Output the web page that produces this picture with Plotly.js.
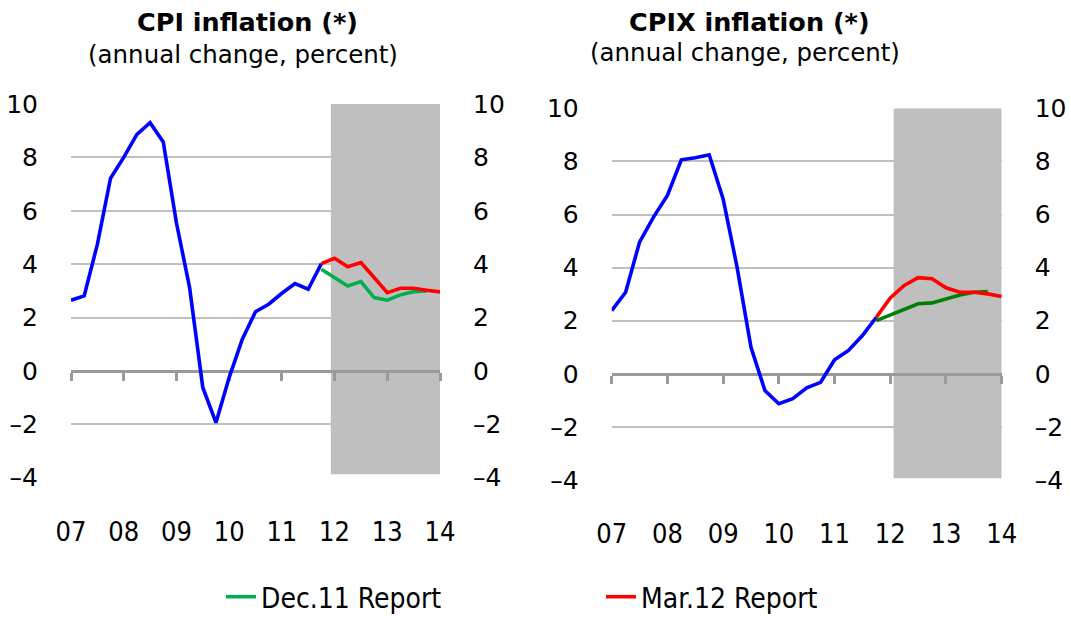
<!DOCTYPE html>
<html>
<head>
<meta charset="utf-8">
<script src="https://cdn.plot.ly/plotly-3.0.1.min.js"></script>
<style>html,body{margin:0;padding:0;background:#fff;}#chart{width:1071px;height:622px;}</style>
</head>
<body>
<div id="chart"></div>
<script>
// ---- data ----
const yearTicks = [2007, 2008, 2009, 2010, 2011, 2012, 2013, 2014];
const yearLabels = ["07", "08", "09", "10", "11", "12", "13", "14"];
const yTicks = [-4, -2, 0, 2, 4, 6, 8, 10];
const yLabels = ["\u20134", "\u20132", "0", "2", "4", "6", "8", "10"];

const histQuarters = [2007.0, 2007.25, 2007.5, 2007.75, 2008.0, 2008.25, 2008.5, 2008.75,
  2009.0, 2009.25, 2009.5, 2009.75, 2010.0, 2010.25, 2010.5, 2010.75,
  2011.0, 2011.25, 2011.5, 2011.75];
const dec11Quarters = [2011.75, 2012.0, 2012.25, 2012.5, 2012.75, 2013.0, 2013.25, 2013.5, 2013.75];
const mar12Quarters = [2011.75, 2012.0, 2012.25, 2012.5, 2012.75, 2013.0, 2013.25, 2013.5, 2013.75, 2014.0];

const cpiActual = [2.65, 2.81, 4.74, 7.22, 8.0, 8.86, 9.3, 8.58, 5.55, 3.12,
  -0.62, -1.94, -0.25, 1.19, 2.22, 2.5, 2.91, 3.27, 3.06, 4.02];
const cpiDec11 = [3.81, 3.5, 3.18, 3.35, 2.75, 2.65, 2.85, 2.97, 3.0];
const cpiMar12 = [4.02, 4.22, 3.9, 4.06, 3.5, 2.93, 3.1, 3.1, 3.02, 2.96];

const cpixActual = [2.38, 3.07, 4.96, 5.9, 6.72, 8.06, 8.14, 8.25, 6.59, 4.02,
  1.0, -0.63, -1.13, -0.94, -0.53, -0.32, 0.53, 0.88, 1.44, 2.13];
const cpixDec11 = [2.0, 2.22, 2.45, 2.64, 2.67, 2.82, 2.97, 3.07, 3.1];
const cpixMar12 = [2.13, 2.86, 3.33, 3.62, 3.58, 3.24, 3.07, 3.07, 3.01, 2.91];

// ---- layout helpers ----
const W = 1071, H = 622;
const px = v => v / W;
const py = v => 1 - v / H;
const YR = [-4, 10];
const condensed = '"DejaVu Sans Condensed", "Liberation Sans Narrow", "DejaVu Sans", sans-serif';
const sans = '"DejaVu Sans", "Noto Sans", sans-serif';

const L = {x: [px(71), px(440)], y: [py(477.7), py(104)]};
const R = {x: [px(611.7), px(1001.7)], y: [py(480), py(108.3)]};
const zeroPos = d => d.y[0] + (0 - YR[0]) / (YR[1] - YR[0]) * (d.y[1] - d.y[0]);

const BLUE = '#0000ff', RED = '#ff0000', GREEN_L = '#00b050', GREEN_R = '#008000';
const LW = 3.6;

function line(x, y, color, xa, ya, name, showlegend) {
  return {type: 'scatter', mode: 'lines', x: x, y: y, xaxis: xa, yaxis: ya,
    line: {color: color, width: LW}, name: name, showlegend: !!showlegend, hoverinfo: 'skip'};
}

const traces = [
  line(histQuarters, cpiActual, BLUE, 'x2', 'y2', 'CPI', false),
  line(dec11Quarters, cpiDec11, GREEN_L, 'x2', 'y2', 'Dec.11 Report', true),
  line(mar12Quarters, cpiMar12, RED, 'x2', 'y2', 'Mar.12 Report', true),
  line(histQuarters, cpixActual, BLUE, 'x4', 'y4', 'CPIX', false),
  line(dec11Quarters, cpixDec11, GREEN_R, 'x4', 'y4', 'Dec.11 Report', false),
  line(mar12Quarters, cpixMar12, RED, 'x4', 'y4', 'Mar.12 Report', false)
];

function labelX(dom, anchor) {
  return {domain: dom, anchor: anchor, range: [2007, 2014], tickmode: 'array',
    tickvals: yearTicks, ticktext: yearLabels, ticks: 'outside', ticklen: 30,
    tickcolor: 'rgba(0,0,0,0)', showline: false, showgrid: false, zeroline: false,
    tickfont: {family: condensed, size: 27, color: '#000'}, fixedrange: true};
}
function zeroX(over, pos) {
  return {overlaying: over, anchor: 'free', position: pos, range: [2007, 2014],
    tickmode: 'array', tickvals: yearTicks, showticklabels: false, ticks: 'outside',
    ticklen: 8, tickwidth: 3, tickcolor: '#9a9a9a', showline: true, linecolor: '#9a9a9a',
    linewidth: 3, showgrid: false, zeroline: false, layer: 'below traces', fixedrange: true};
}
function gridY(dom, anchor) {
  return {domain: dom, anchor: anchor, range: YR, tickmode: 'array', tickvals: yTicks,
    ticktext: yLabels,
    showgrid: true, gridcolor: '#c0c0c0', gridwidth: 2, zeroline: false, showline: false,
    ticks: 'outside', ticklen: 27, tickcolor: 'rgba(0,0,0,0)',
    tickfont: {family: sans, size: 25, color: '#000'}, fixedrange: true};
}
function rightY(over, anchor) {
  return {overlaying: over, anchor: anchor, side: 'right', range: YR, tickmode: 'array',
    tickvals: yTicks, ticktext: yLabels, showgrid: false, zeroline: false, showline: false,
    ticks: 'outside', ticklen: 27, tickcolor: 'rgba(0,0,0,0)',
    tickfont: {family: sans, size: 25, color: '#000'}, fixedrange: true};
}

const layout = {
  width: W, height: H, margin: {l: 0, r: 0, t: 0, b: 0},
  paper_bgcolor: '#ffffff', plot_bgcolor: 'rgba(0,0,0,0)',
  xaxis: labelX(L.x, 'y'),
  xaxis2: zeroX('x', zeroPos(L)),
  yaxis: gridY(L.y, 'x'),
  yaxis2: rightY('y', 'x'),
  xaxis3: labelX(R.x, 'y3'),
  xaxis4: zeroX('x3', zeroPos(R)),
  yaxis3: gridY(R.y, 'x3'),
  yaxis4: rightY('y3', 'x3'),
  shapes: [
    {type: 'rect', xref: 'x', yref: 'y', x0: 2011.93, x1: 2014, y0: -3.87, y1: 10,
      fillcolor: '#bfbfbf', line: {width: 0}, layer: 'between'},
    {type: 'rect', xref: 'x3', yref: 'y3', x0: 2012.06, x1: 2014, y0: -3.93, y1: 10,
      fillcolor: '#bfbfbf', line: {width: 0}, layer: 'between'}
  ],
  annotations: [
    {xref: 'paper', yref: 'paper', x: px(247), y: py(22), text: '<b>CPI inflation (*)</b>',
      showarrow: false, xanchor: 'center', yanchor: 'middle', font: {family: sans, size: 25.5, color: '#000'}},
    {xref: 'paper', yref: 'paper', x: px(243), y: py(54), text: '(annual change, percent)',
      showarrow: false, xanchor: 'center', yanchor: 'middle', font: {family: sans, size: 24.5, color: '#000'}},
    {xref: 'paper', yref: 'paper', x: px(749), y: py(22), text: '<b>CPIX inflation (*)</b>',
      showarrow: false, xanchor: 'center', yanchor: 'middle', font: {family: sans, size: 25.5, color: '#000'}},
    {xref: 'paper', yref: 'paper', x: px(745), y: py(52), text: '(annual change, percent)',
      showarrow: false, xanchor: 'center', yanchor: 'middle', font: {family: sans, size: 24.5, color: '#000'}}
  ],
  showlegend: true,
  legend: {orientation: 'h', x: px(221), y: 0, xanchor: 'left', yanchor: 'bottom',
    font: {family: condensed, size: 28, color: '#000'}, bgcolor: 'rgba(0,0,0,0)',
    borderwidth: 0, entrywidth: 335, entrywidthmode: 'pixels', itemwidth: 30, traceorder: 'normal'}
};

Plotly.newPlot('chart', traces, layout, {displayModeBar: false, staticPlot: true});
</script>
</body>
</html>
